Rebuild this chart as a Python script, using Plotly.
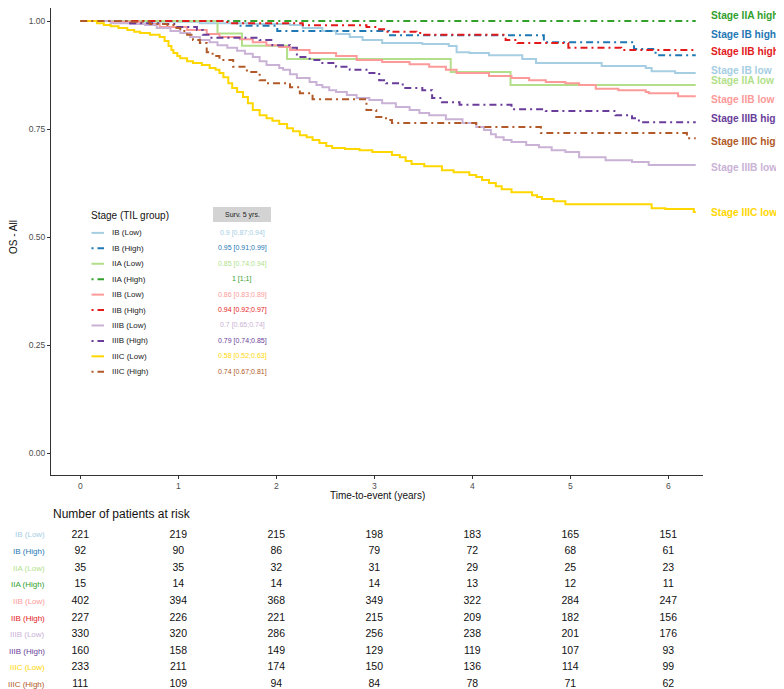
import plotly.graph_objects as go

# The page body has an 8px margin, so the figure is 8px smaller on each axis
OFF = 8
W, H = 784 - OFF, 689 - OFF
FONT = "Liberation Sans, Arial, sans-serif"

# ---------------- data ----------------
groups = ["IB (Low)", "IB (High)", "IIA (Low)", "IIA (High)", "IIB (Low)",
          "IIB (High)", "IIIB (Low)", "IIIB (High)", "IIIC (Low)", "IIIC (High)"]
curve_labels = ["Stage IB low", "Stage IB high", "Stage IIA low", "Stage IIA high",
                "Stage IIB low", "Stage IIB high", "Stage IIIB low", "Stage IIIB high",
                "Stage IIIC low", "Stage IIIC high"]
colors = ["#A6CEE3", "#1F78B4", "#B2DF8A", "#33A02C", "#FB9A99",
          "#E31A1C", "#CAB2D6", "#6A3D9A", "#FFD700", "#B15928"]
is_high = [False, True, False, True, False, True, False, True, False, True]
surv5 = ["0.9 [0.87;0.94]", "0.95 [0.91;0.99]", "0.85 [0.74;0.94]", "1 [1;1]",
         "0.86 [0.83;0.89]", "0.94 [0.92;0.97]", "0.7 [0.65;0.74]", "0.79 [0.74;0.85]",
         "0.58 [0.52;0.63]", "0.74 [0.67;0.81]"]

t_end = 6.28

ib_low_t = [0, 0.51, 1.22, 1.73, 2.14, 2.27, 2.47, 2.61, 2.75, 2.88, 3.08, 3.49, 3.76,
            3.84, 3.97, 4.17, 4.51, 4.65, 5.32, 5.77, 5.83, 6.07]
ib_low_s = [1, 0.998, 0.995, 0.993, 0.991, 0.984, 0.977, 0.970, 0.963, 0.956, 0.949,
            0.947, 0.942, 0.928, 0.926, 0.921, 0.912, 0.903, 0.896, 0.891, 0.884, 0.880]

ib_high_t = [0, 1.60, 2.01, 3.15, 4.73, 5.65, 5.87]
ib_high_s = [1, 0.989, 0.977, 0.967, 0.951, 0.935, 0.921]

iia_low_t = [0, 1.40, 1.65, 2.11, 3.78, 4.39]
iia_low_s = [1, 0.971, 0.943, 0.912, 0.882, 0.852]

iia_high_t = [0]
iia_high_s = [1]

iib_low_t = [0, 0.31, 0.61, 0.81, 1.09, 1.29, 1.42, 1.63, 1.76, 1.90, 2.03, 2.14, 2.34,
             2.61, 2.82, 3.08, 3.36, 3.56, 3.73, 3.84, 4.17, 4.40, 4.58, 4.75, 4.95, 5.09,
             5.26, 5.49, 5.77, 5.80, 6.10]
iib_low_s = [1, 0.998, 0.993, 0.986, 0.979, 0.970, 0.963, 0.958, 0.951, 0.944, 0.940,
             0.933, 0.926, 0.919, 0.910, 0.905, 0.900, 0.894, 0.887, 0.880, 0.873, 0.868,
             0.863, 0.859, 0.856, 0.852, 0.843, 0.840, 0.836, 0.833, 0.826]

iib_high_t = [0, 1.50, 2.27, 2.92, 3.02, 3.12, 3.43, 3.49, 4.34, 4.46, 4.98, 5.52]
iib_high_s = [1, 0.995, 0.990, 0.986, 0.981, 0.975, 0.972, 0.968, 0.956, 0.949, 0.938, 0.933]

iiib_low_t = [0, 0.31, 0.51, 0.66, 0.78, 0.92, 1.02, 1.12, 1.22, 1.32, 1.40, 1.50, 1.60,
              1.68, 1.76, 1.83, 1.90, 2.03, 2.07, 2.14, 2.21, 2.34, 2.41, 2.47, 2.54, 2.61,
              2.72, 2.82, 2.95, 3.08, 3.22, 3.36, 3.46, 3.56, 3.73, 3.90, 4.04, 4.12, 4.19,
              4.24, 4.32, 4.40, 4.55, 4.68, 4.81, 4.95, 5.09, 5.36, 5.63, 5.80]
iiib_low_s = [1, 0.995, 0.993, 0.991, 0.984, 0.977, 0.972, 0.963, 0.956, 0.951, 0.944,
              0.938, 0.931, 0.924, 0.917, 0.907, 0.898, 0.891, 0.887, 0.877, 0.868, 0.859,
              0.852, 0.847, 0.840, 0.836, 0.829, 0.822, 0.817, 0.810, 0.801, 0.794, 0.787,
              0.782, 0.773, 0.764, 0.755, 0.748, 0.738, 0.731, 0.725, 0.720, 0.713, 0.708,
              0.701, 0.697, 0.685, 0.678, 0.674, 0.667]

iiib_high_t = [0, 0.48, 0.81, 0.99, 1.19, 1.25, 1.32, 1.83, 1.96, 2.14, 2.21, 2.34, 2.47,
               2.61, 2.75, 2.92, 3.05, 3.12, 3.29, 3.49, 3.59, 3.69, 3.87, 4.40, 4.75, 5.46,
               5.63, 5.70]
iiib_high_s = [1, 0.995, 0.993, 0.986, 0.979, 0.968, 0.961, 0.956, 0.944, 0.938, 0.917,
               0.910, 0.903, 0.894, 0.887, 0.880, 0.863, 0.856, 0.845, 0.840, 0.822, 0.812,
               0.806, 0.796, 0.792, 0.782, 0.775, 0.766]

iiic_low_t = [0, 0.17, 0.24, 0.31, 0.39, 0.48, 0.55, 0.61, 0.71, 0.81, 0.86, 0.90, 0.93,
              0.95, 0.99, 1.02, 1.09, 1.15, 1.24, 1.32, 1.38, 1.42, 1.46, 1.51, 1.55, 1.60,
              1.66, 1.71, 1.76, 1.83, 1.90, 1.96, 2.03, 2.11, 2.17, 2.24, 2.31, 2.37, 2.44,
              2.51, 2.57, 2.70, 2.85, 2.98, 3.18, 3.26, 3.32, 3.38, 3.51, 3.69, 3.81, 3.97,
              4.04, 4.10, 4.17, 4.24, 4.30, 4.40, 4.61, 4.66, 4.71, 4.83, 4.95, 5.83, 5.97,
              6.26]
iiic_low_s = [1, 0.995, 0.991, 0.988, 0.984, 0.979, 0.975, 0.972, 0.968, 0.963, 0.954,
              0.942, 0.933, 0.926, 0.919, 0.914, 0.907, 0.903, 0.898, 0.891, 0.887, 0.880,
              0.870, 0.856, 0.845, 0.836, 0.824, 0.810, 0.794, 0.782, 0.775, 0.769, 0.762,
              0.752, 0.745, 0.736, 0.731, 0.725, 0.718, 0.711, 0.706, 0.704, 0.701, 0.697,
              0.690, 0.685, 0.676, 0.669, 0.664, 0.655, 0.650, 0.644, 0.639, 0.632, 0.625,
              0.618, 0.611, 0.604, 0.597, 0.593, 0.588, 0.583, 0.576, 0.567, 0.565, 0.558]

iiic_high_t = [0, 0.48, 0.71, 0.89, 0.95, 1.02, 1.09, 1.15, 1.22, 1.29, 1.35, 1.42, 1.56,
               1.70, 1.83, 1.90, 2.14, 2.24, 2.37, 2.92, 3.02, 3.12, 3.18, 4.04, 4.70, 6.19]
iiic_high_s = [1, 0.998, 0.993, 0.991, 0.984, 0.977, 0.968, 0.956, 0.949, 0.928, 0.919,
               0.910, 0.894, 0.882, 0.863, 0.856, 0.847, 0.833, 0.819, 0.794, 0.778, 0.771,
               0.764, 0.755, 0.741, 0.729]

risk_times = [0, 1, 2, 3, 4, 5, 6]
risk_ib_low = [221, 219, 215, 198, 183, 165, 151]
risk_ib_high = [92, 90, 86, 79, 72, 68, 61]
risk_iia_low = [35, 35, 32, 31, 29, 25, 23]
risk_iia_high = [15, 14, 14, 14, 13, 12, 11]
risk_iib_low = [402, 394, 368, 349, 322, 284, 247]
risk_iib_high = [227, 226, 221, 215, 209, 182, 156]
risk_iiib_low = [330, 320, 286, 256, 238, 201, 176]
risk_iiib_high = [160, 158, 149, 129, 119, 107, 93]
risk_iiic_low = [233, 211, 174, 150, 136, 114, 99]
risk_iiic_high = [111, 109, 94, 84, 78, 71, 62]

times = [ib_low_t, ib_high_t, iia_low_t, iia_high_t, iib_low_t, iib_high_t,
         iiib_low_t, iiib_high_t, iiic_low_t, iiic_high_t]
survs = [ib_low_s, ib_high_s, iia_low_s, iia_high_s, iib_low_s, iib_high_s,
         iiib_low_s, iiib_high_s, iiic_low_s, iiic_high_s]
risks = [risk_ib_low, risk_ib_high, risk_iia_low, risk_iia_high, risk_iib_low,
         risk_iib_high, risk_iiib_low, risk_iiib_high, risk_iiic_low, risk_iiic_high]

# ---------------- layout helpers (window pixel -> paper) ----------------
def px(x):
    return (x - OFF) / W


def py(y):
    return 1 - (y - OFF) / H


HIGH_DASH = "7px,4px,2px,4px"
LEG_DASH = "2px,4px,7px,4px"

# label positions for the repelled end-of-curve labels (window pixels)
label_y_px = [70, 35, 81, 15.7, 99, 51.7, 167, 119, 212, 141.7]

fig = go.Figure()

# survival curves
for i, g in enumerate(groups):
    t = times[i] + [t_end]
    s = survs[i] + [survs[i][-1]]
    fig.add_trace(go.Scatter(
        x=t, y=s, mode="lines", name=g,
        line=dict(color=colors[i], width=2, shape="hv",
                  dash=HIGH_DASH if is_high[i] else "solid"),
        showlegend=False, hoverinfo="skip", xaxis="x", yaxis="y"))

# risk table
for i, g in enumerate(groups):
    fig.add_trace(go.Scatter(
        x=risk_times, y=[g] * len(risk_times), mode="text",
        text=[str(v) for v in risks[i]],
        textfont=dict(family=FONT, size=10.5, color="#111111"),
        showlegend=False, hoverinfo="skip", xaxis="x2", yaxis="y2"))

annotations = []
shapes = []

# end-of-curve labels
for i, lab in enumerate(curve_labels):
    annotations.append(dict(
        x=px(709), y=py(label_y_px[i]), xref="paper", yref="paper",
        text="<b>" + lab + "</b>", showarrow=False, xanchor="left", yanchor="middle",
        font=dict(family=FONT, size=10.2, color=colors[i])))

# custom legend
annotations.append(dict(
    x=px(89), y=py(216), xref="paper", yref="paper", text="Stage (TIL group)",
    showarrow=False, xanchor="left", yanchor="middle",
    font=dict(family=FONT, size=10, color="#111111")))
shapes.append(dict(type="rect", xref="paper", yref="paper",
                   x0=px(213), x1=px(271), y0=py(222), y1=py(207),
                   fillcolor="#D3D3D3", line=dict(width=0), layer="below"))
annotations.append(dict(
    x=px(242), y=py(214.5), xref="paper", yref="paper", text="Surv. 5 yrs.",
    showarrow=False, xanchor="center", yanchor="middle",
    font=dict(family=FONT, size=7, color="#222222")))

for i, g in enumerate(groups):
    yy = 232.9 + 15.43 * i
    shapes.append(dict(type="line", xref="paper", yref="paper",
                       x0=px(91.5), x1=px(104), y0=py(yy), y1=py(yy),
                       line=dict(color=colors[i], width=2,
                                 dash=LEG_DASH if is_high[i] else "solid")))
    annotations.append(dict(
        x=px(110), y=py(yy), xref="paper", yref="paper", text=g,
        showarrow=False, xanchor="left", yanchor="middle",
        font=dict(family=FONT, size=8, color="#222222")))
    annotations.append(dict(
        x=px(242), y=py(yy), xref="paper", yref="paper", text=surv5[i],
        showarrow=False, xanchor="center", yanchor="middle",
        font=dict(family=FONT, size=7, color=colors[i])))

# risk table title and row labels
annotations.append(dict(
    x=px(51), y=py(514), xref="paper", yref="paper", text="Number of patients at risk",
    showarrow=False, xanchor="left", yanchor="middle",
    font=dict(family=FONT, size=12, color="#111111")))
for i, g in enumerate(groups):
    annotations.append(dict(
        x=px(47), y=g, xref="paper", yref="y2", text=g,
        showarrow=False, xanchor="right", yanchor="middle",
        font=dict(family=FONT, size=8, color=colors[i])))

# axis titles
annotations.append(dict(
    x=px(377), y=py(495), xref="paper", yref="paper", text="Time-to-event (years)",
    showarrow=False, xanchor="center", yanchor="middle",
    font=dict(family=FONT, size=10, color="#111111")))
annotations.append(dict(
    x=px(14), y=py(237), xref="paper", yref="paper", text="OS - All", textangle=-90,
    showarrow=False, xanchor="center", yanchor="middle",
    font=dict(family=FONT, size=10, color="#111111")))

x_range = [(51 - 80.3) / 98.0, (703 - 80.3) / 98.0]
# y: 1.00 at window y=21, 0.00 at y=453.3; panel from y=8 (top) to 475 (bottom)
y_per_px = 1 / 432.3
y_range = [-(475 - 453.3) * y_per_px, 1 + (21 - OFF) * y_per_px]

fig.update_layout(
    width=W, height=H,
    margin=dict(l=0, r=0, t=0, b=0, autoexpand=False),
    paper_bgcolor="white", plot_bgcolor="white",
    font=dict(family=FONT),
    showlegend=False,
    xaxis=dict(domain=[px(51), px(703)], range=x_range, anchor="y",
               tickvals=risk_times, ticktext=[str(v) for v in risk_times],
               ticks="outside", ticklen=3, tickcolor="#333333", tickwidth=1,
               showline=True, linecolor="#333333", linewidth=1,
               showgrid=False, zeroline=False,
               tickfont=dict(family=FONT, size=8.5, color="#4D4D4D")),
    yaxis=dict(domain=[py(475), 1], range=y_range, anchor="x",
               tickvals=[0, 0.25, 0.5, 0.75, 1.0],
               ticktext=["0.00", "0.25", "0.50", "0.75", "1.00"],
               ticks="outside", ticklen=3, tickcolor="#333333", tickwidth=1,
               showline=True, linecolor="#333333", linewidth=1,
               showgrid=False, zeroline=False,
               tickfont=dict(family=FONT, size=8.5, color="#4D4D4D")),
    xaxis2=dict(domain=[px(51), px(703)], range=x_range, anchor="y2",
                visible=False),
    yaxis2=dict(domain=[0, py(525)], type="category", categoryorder="array",
                categoryarray=groups, range=[9.277, -0.602], anchor="x2",
                visible=False),
    annotations=annotations,
    shapes=shapes,
)

fig.write_html("out.html")
